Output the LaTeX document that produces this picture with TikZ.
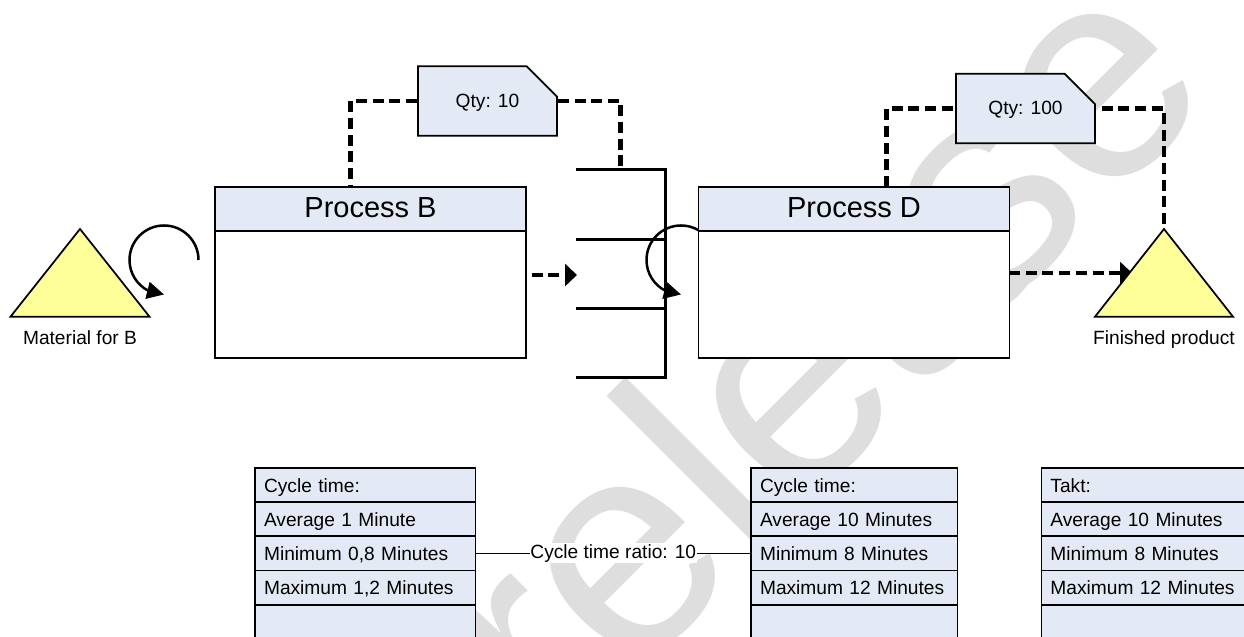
\documentclass[tikz,border=0pt]{standalone}
\usepackage{fontspec}
\setmainfont{Liberation Sans}
\usetikzlibrary{arrows.meta,bending,shapes.misc}
\definecolor{paleblue}{HTML}{E4EAF5}
\definecolor{paleyellow}{HTML}{FFFF99}
\definecolor{markgray}{HTML}{DEDEDE}
\tikzset{
  procname/.style={draw,line width=0.035cm,fill=paleblue,minimum width=6.22cm,minimum height=0.88cm,inner sep=0pt,outer sep=0pt,text height=0.38cm,text depth=0.04cm,font=\fontsize{16.5}{18}\selectfont},
  procbody/.style={draw,line width=0.035cm,fill=white,minimum width=6.22cm,minimum height=2.55cm,inner sep=0pt,outer sep=0pt,anchor=north},
  qtynote/.style={draw,line width=0.035cm,fill=paleblue,chamfered rectangle,chamfered rectangle corners=north east,chamfered rectangle xsep=0.44cm,chamfered rectangle ysep=0.44cm,minimum width=2.78cm,minimum height=1.39cm,inner sep=0pt,text height=0.3cm,text depth=0.04cm,font=\fontsize{10.9}{12}\selectfont},
  stock/.style={draw,line width=0.035cm,fill=paleyellow,line join=miter},
  stocklabel/.style={inner sep=0pt,text height=0.3cm,text depth=0.04cm,font=\fontsize{10.9}{12}\selectfont},
  pushline/.style={line width=0.09cm,dash pattern=on 0.22cm off 0.114cm},
  pushtip/.style={-{Triangle[length=0.24cm,width=0.44cm]}},
  shelf/.style={line width=0.06cm},
  loopline/.style={line width=0.05cm,-{Triangle[length=0.34cm,width=0.34cm,flex]}},
  datarow/.style={draw,line width=0.03cm,fill=paleblue,anchor=west,align=left,text width=#1,inner xsep=0.18cm,inner ysep=0.153cm,text height=0.34cm,text depth=0.04cm,font=\fontsize{10.9}{12}\selectfont},
  ratiolabel/.style={fill=white,inner xsep=0.01cm,inner ysep=0.02cm,font=\fontsize{10.9}{12}\selectfont},
  markword/.style={rotate=45,anchor=base west,text=markgray,font=\fontsize{172}{172}\selectfont,inner sep=0pt}
}
\begin{document}
\begin{tikzpicture}
\useasboundingbox (0,0) rectangle (24.88,12.74);
\clip (0,0) rectangle (24.88,12.74);

\node[markword] (markA) at (11.14,-2.38) {relea};
\node[markword] (markB) at (19.88,6.36) {se};

\draw[loopline] (3.97,7.54) arc (0:270:0.69cm);
\draw[loopline] (14.31,7.54) arc (0:270:0.69cm);

\node[procname] (procB) at (7.41,8.566) {Process B};
\node[procbody] (procBbody) at (procB.south) {};
\node[procname] (procD) at (17.08,8.566) {Process D};
\node[procbody] (procDbody) at (procD.south) {};

\node[qtynote] (noteB) at (9.75,10.72) {Qty: 10};
\node[qtynote] (noteD) at (20.51,10.57) {Qty: 100};

\coordinate (procBtop) at (7.01,9.0);
\coordinate (procDtop) at (17.73,9.0);
\coordinate (shelfTop) at (12.41,9.34);
\coordinate (bOut) at (10.52,7.24);
\coordinate (bIn) at (11.54,7.24);
\coordinate (dOut) at (20.18,7.28);
\coordinate (dIn) at (22.64,7.28);
\coordinate (matTop) at (1.6,8.16);
\coordinate (finTop) at (23.28,8.16);

\draw[shelf] (11.52,9.34) -- (13.3,9.34) -- (13.3,5.18) -- (11.52,5.18);
\draw[shelf] (11.52,7.94) -- (13.3,7.94);
\draw[shelf] (11.52,6.56) -- (13.3,6.56);

\draw[pushline] (noteB.west) -| (procBtop);
\draw[pushline] (noteB.east) -| (shelfTop);
\draw[pushline] (procDtop) |- (noteD.west);
\draw[pushline,dash phase=0.22cm] (noteD.east) -| (finTop);
\draw[pushline,pushtip,dash phase=0.22cm] (bOut) -- (bIn);
\draw[pushline,pushtip] (dOut) -- (dIn);

\path[stock] (matTop) -- ++(-1.39,-1.754) -- ++(2.78,0) -- cycle;
\path[stock] (finTop) -- ++(-1.38,-1.754) -- ++(2.76,0) -- cycle;
\node[stocklabel] (matLabel) at (1.6,5.98) {Material for B};
\node[stocklabel] (finLabel) at (23.28,5.98) {Finished product};

\node[datarow=4.05cm] (bRowa) at (5.086,3.036) {Cycle time:};
\node[datarow=4.05cm] (bRowb) at (5.086,2.356) {Average 1 Minute};
\node[datarow=4.05cm] (bRowc) at (5.086,1.676) {Minimum 0,8 Minutes};
\node[datarow=4.05cm] (bRowd) at (5.086,0.99) {Maximum 1,2 Minutes};
\node[datarow=4.05cm] (bRowe) at (5.086,0.30) {};

\node[datarow=3.77cm] (dRowa) at (15.006,3.036) {Cycle time:};
\node[datarow=3.77cm] (dRowb) at (15.006,2.356) {Average 10 Minutes};
\node[datarow=3.77cm] (dRowc) at (15.006,1.676) {Minimum 8 Minutes};
\node[datarow=3.77cm] (dRowd) at (15.006,0.99) {Maximum 12 Minutes};
\node[datarow=3.77cm] (dRowe) at (15.006,0.30) {};

\node[datarow=3.77cm] (tRowa) at (20.814,3.036) {Takt:};
\node[datarow=3.77cm] (tRowb) at (20.814,2.356) {Average 10 Minutes};
\node[datarow=3.77cm] (tRowc) at (20.814,1.676) {Minimum 8 Minutes};
\node[datarow=3.77cm] (tRowd) at (20.814,0.99) {Maximum 12 Minutes};
\node[datarow=3.77cm] (tRowe) at (20.814,0.30) {};

\draw[line width=0.025cm] (bRowc.east) -- (dRowc.west) node[midway,ratiolabel] (ratio) {Cycle time ratio: 10};
\end{tikzpicture}
\end{document}
